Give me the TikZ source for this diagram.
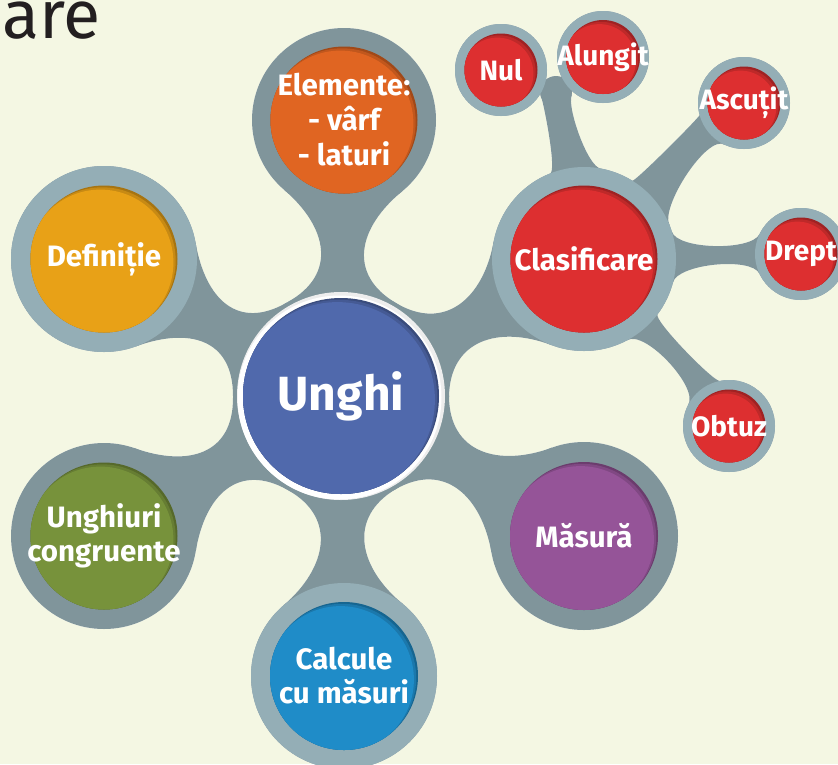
\documentclass[tikz,border=0pt]{standalone}
\usepackage{fontspec}
\setmainfont{Fira Sans}
\usetikzlibrary{calc}
\definecolor{bg}{HTML}{F4F7E3}
\definecolor{txt}{HTML}{231F20}
\definecolor{linkc}{HTML}{80959B}
\definecolor{ringl}{HTML}{94AEB6}
\definecolor{cU}{HTML}{5069AC}
\definecolor{cE}{HTML}{E06522}
\definecolor{cD}{HTML}{E8A117}
\definecolor{cC}{HTML}{DD2F30}
\definecolor{cG}{HTML}{77923B}
\definecolor{cM}{HTML}{955498}
\definecolor{cK}{HTML}{1F8CC8}
\expandafter\def\csname radU\endcsname{108}
\expandafter\def\csname radE\endcsname{92}
\expandafter\def\csname radD\endcsname{93}
\expandafter\def\csname radC\endcsname{92}
\expandafter\def\csname radG\endcsname{93}
\expandafter\def\csname radM\endcsname{94}
\expandafter\def\csname radK\endcsname{93}
\expandafter\def\csname radN\endcsname{46}
\expandafter\def\csname radA\endcsname{46}
\expandafter\def\csname radS\endcsname{46}
\expandafter\def\csname radR\endcsname{46}
\expandafter\def\csname radO\endcsname{46}
\expandafter\def\csname radJ\endcsname{16}
% #1 from, #2 to, #3 spread (+side) at from, #4 spread (+side) at to,
% #5 spread (-side) at from, #6 spread (-side) at to, #7 handle at from, #8 handle at to, #9 bend
\newcommand\spoke[9]{%
  \edef\ra{\csname rad#1\endcsname}\edef\rb{\csname rad#2\endcsname}%
  \fill let \p1=(#1), \p2=(#2), \n1={atan2(\y2-\y1,\x2-\x1)} in
    ($(#1)+(\n1+#3:\ra pt)$) .. controls +($(\n1+#3-90:#7pt)+(\n1+90:#9pt)$) and +($(\n1-90-#4:#8pt)+(\n1+90:#9pt)$) ..
    ($(#2)+(\n1+180-#4:\rb pt)$) -- ($(#2)+(\n1+180+#6:\rb pt)$)
    .. controls +($(\n1+90+#6:#8pt)+(\n1+90:#9pt)$) and +($(\n1+90-#5:#7pt)+(\n1+90:#9pt)$) .. ($(#1)+(\n1-#5:\ra pt)$) -- cycle;}
\newcommand\allshapes{%
  \fill (U) circle (108pt);
  \spoke{U}{E}{30}{40}{30}{40}{57}{57}{0}
  \spoke{U}{D}{30}{40}{30}{40}{57}{57}{0}
  \spoke{U}{C}{30}{40}{30}{40}{57}{57}{0}
  \spoke{U}{G}{30}{40}{30}{40}{57}{57}{0}
  \spoke{U}{M}{30}{40}{30}{40}{57}{57}{0}
  \spoke{U}{K}{30}{40}{30}{40}{57}{57}{0}
  \spoke{C}{R}{16}{27}{16}{24}{19}{19}{0}
  \spoke{C}{O}{12}{29}{13}{22}{14}{14}{7}
  \spoke{C}{S}{14}{29}{23}{21}{12}{12}{9}
  \fill (J) circle (16pt);
  \spoke{C}{J}{12}{70}{20}{70}{10}{12}{3}
  \foreach \n/\r in {E/92,G/93,M/94,D/93,C/92,K/93,N/46,A/46,S/46,R/46,O/46}{\fill (\n) circle (\r pt);}
}
\tikzset{
  inner/.style 2 args={circle, minimum size=#1, inner sep=0pt, fill=#2!72!black,
    path picture={\fill[#2!86!black] ($(path picture bounding box.center)+(-1.8pt,-1.8pt)$) circle [radius=#1/2];
                  \fill[#2] ($(path picture bounding box.center)+(-3.6pt,-3.6pt)$) circle [radius=#1/2-0.5pt];}},
  lab/.style={text=white, align=center, inner sep=0pt, font=\bfseries\fontsize{29.5}{35}\selectfont},
  slab/.style={text=white, align=center, inner sep=0pt, font=\bfseries\fontsize{28}{30}\selectfont},
}
\begin{document}
\begin{tikzpicture}[x=1pt,y=-1pt]
\fill[bg] (0,0) rectangle (838,764);
\useasboundingbox (0,0) rectangle (838,764);
\node[anchor=base west, inner sep=0pt, text=txt, font=\fontsize{68}{68}\selectfont] (title) at (2,38) {are};
\coordinate (U) at (341,396);
\coordinate (E) at (344,120);
\coordinate (D) at (104,259);
\coordinate (C) at (584,259);
\coordinate (G) at (104,536);
\coordinate (M) at (584,536);
\coordinate (K) at (344,676);
\coordinate (N) at (501,70);
\coordinate (A) at (603,57);
\coordinate (S) at (744,103);
\coordinate (R) at (801,254);
\coordinate (O) at (729,426);
\coordinate (J) at (556,92);
% white highlight pass
\begin{scope}[shift={(-2,2)}, white]
  \allshapes
\end{scope}
% grey pass
\begin{scope}[linkc]
  \allshapes
\end{scope}
% light rings
\foreach \n/\r in {D/93,C/92,K/93,N/46,A/46,S/46,R/46,O/46}{\fill[ringl] (\n) circle (\r pt);}
% central white ring
\fill[white!86!gray] (U) circle (104pt);
\fill[white] ($(U)+(-1.5,1.5)$) circle (102pt);
% inner circles
\node[inner={196pt}{cU}] (nU) at (U) {};
\node[inner={147pt}{cE}] (nE) at (E) {};
\node[inner={147pt}{cD}] (nD) at (D) {};
\node[inner={147pt}{cC}] (nC) at (C) {};
\node[inner={147pt}{cG}] (nG) at (G) {};
\node[inner={148pt}{cM}] (nM) at (M) {};
\node[inner={148pt}{cK}] (nK) at (K) {};
\node[inner={73pt}{cC}] (nN) at (N) {};
\node[inner={74pt}{cC}] (nA) at (A) {};
\node[inner={73pt}{cC}] (nS) at (S) {};
\node[inner={73pt}{cC}] (nR) at (R) {};
\node[inner={73pt}{cC}] (nO) at (O) {};
% labels
\node[text=white, inner sep=0pt, font=\bfseries\fontsize{48}{50}\selectfont] (tU) at (U) {Unghi};
\node[lab] (tE) at (E) {Elemente:\\- vârf\\- laturi};
\node[lab] (tD) at (D) {Definiție};
\node[lab] (tC) at (C) {Clasificare};
\node[lab, font=\bfseries\fontsize{29.5}{34}\selectfont] (tG) at (G) {Unghiuri\\congruente};
\node[lab, font=\bfseries\fontsize{29.5}{34}\selectfont] (tM) at (M) {Măsură};
\node[lab, font=\bfseries\fontsize{29.5}{34}\selectfont] (tK) at (K) {Calcule\\cu măsuri};
\node[slab] (tN) at (N) {Nul};
\node[slab] (tA) at (A) {Alungit};
\node[slab] (tS) at (S) {Ascuțit};
\node[slab] (tR) at (R) {Drept};
\node[slab] (tO) at (O) {Obtuz};
\end{tikzpicture}
\end{document}
